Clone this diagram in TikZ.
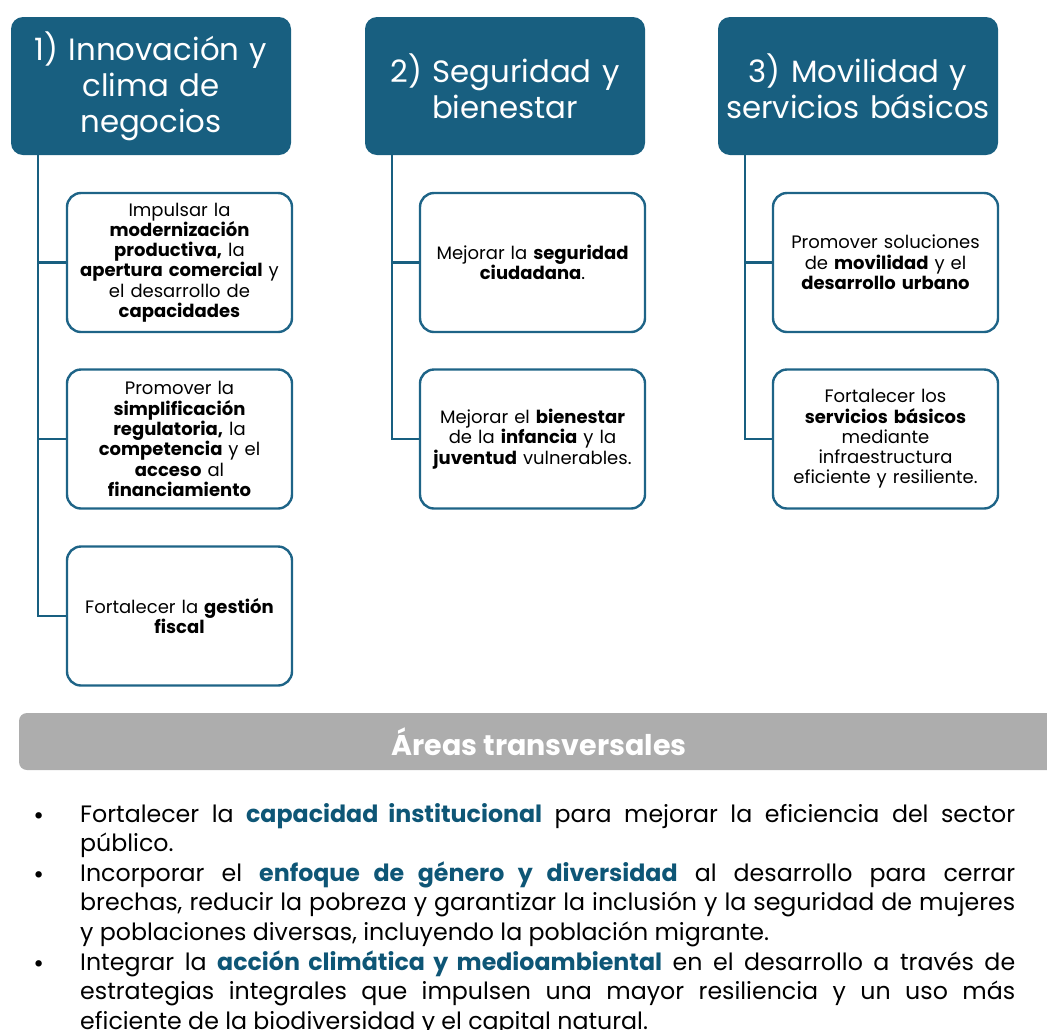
\documentclass[tikz,border=0pt]{standalone}
\usepackage{fontspec}
\setmainfont{Poppins}
\usetikzlibrary{calc}
\definecolor{headteal}{RGB}{24,95,128}
\definecolor{edgeteal}{RGB}{30,100,135}
\definecolor{boldteal}{RGB}{14,86,118}
\definecolor{bargray}{RGB}{173,173,173}
\newcommand{\hl}[1]{\textbf{\color{boldteal}#1}}
\newcommand{\itemdot}{\leavevmode\llap{\raisebox{-2.5pt}{\fontsize{26}{26}\selectfont\textbullet}\hspace{36pt}}}
\tikzset{
  headbox/.style={fill=headteal, text=white, rounded corners=12pt, minimum width=280pt,
    minimum height=138pt, text width=276pt, align=center, inner sep=0pt,
    font=\fontsize{30.8}{36}\selectfont},
  itembox/.style={draw=edgeteal, line width=2.4pt, fill=white, rounded corners=14pt,
    minimum width=225pt, minimum height=139pt, text width=222pt, align=center, inner sep=0pt,
    font=\fontsize{18}{20.3}\selectfont},
  conn/.style={draw=headteal, line width=2.6pt},
  bar/.style={fill=bargray, rounded corners=8pt, minimum width=1040pt, minimum height=57pt,
    inner sep=0pt},
}
\begin{document}
\begin{tikzpicture}[x=1pt,y=-1pt]
\useasboundingbox (0,0) rectangle (1047,1029);

% column headers
\node[headbox] (h1) at (151,86) {1) Innovación y\\clima de\\negocios};
\node[headbox] (h2) at (505,86) {2) Seguridad y\\bienestar};
\node[headbox] (h3) at (858,86) {3) Movilidad y\\servicios básicos};

% column 1 items
\node[itembox] (b11) at (179.5,262.5) {Impulsar la\\\textbf{modernización}\\\textbf{productiva,} la\\\textbf{apertura comercial} y\\el desarrollo de\\\textbf{capacidades}};
\node[itembox] (b12) at (179.5,439) {Promover la\\\textbf{simplificación}\\\textbf{regulatoria,} la\\\textbf{competencia} y el\\\textbf{acceso} al\\\textbf{financiamiento}};
\node[itembox] (b13) at (179.5,616) {Fortalecer la \textbf{gestión}\\\textbf{fiscal}};

% column 2 items
\node[itembox] (b21) at (532.5,262.5) {Mejorar la \textbf{seguridad}\\\textbf{ciudadana}.};
\node[itembox] (b22) at (532.5,439) {Mejorar el \textbf{bienestar}\\de la \textbf{infancia} y la\\\textbf{juventud} vulnerables.};

% column 3 items
\node[itembox] (b31) at (885.5,262.5) {Promover soluciones\\de \textbf{movilidad} y el\\\textbf{desarrollo urbano}};
\node[itembox] (b32) at (885.5,439) {Fortalecer los\\\textbf{servicios básicos}\\mediante\\infraestructura\\eficiente y resiliente.};

% tree connectors
\coordinate (t1) at ($(h1.south west)+(27,0)$);
\coordinate (t2) at ($(h2.south west)+(27,0)$);
\coordinate (t3) at ($(h3.south west)+(27,0)$);
\draw[conn] (t1) |- (b13.west);
\draw[conn] (t1 |- b11.west) -- (b11.west);
\draw[conn] (t1 |- b12.west) -- (b12.west);
\draw[conn] (t2) |- (b22.west);
\draw[conn] (t2 |- b21.west) -- (b21.west);
\draw[conn] (t3) |- (b32.west);
\draw[conn] (t3 |- b31.west) -- (b31.west);

% cross-cutting areas
\node[bar] (areas) at (539,741.5) {\fontsize{28.5}{30}\selectfont\bfseries\color{white}Áreas transversales};

\node[anchor=north west, inner sep=0pt, text width=935pt, align=justify,
  font=\fontsize{23.7}{29.6}\selectfont] (list) at (80,803) {%
\itemdot Fortalecer la \hl{capacidad institucional} para mejorar la eficiencia del sector\linebreak
público.\par
\itemdot Incorporar el \hl{enfoque de género y diversidad} al desarrollo para cerrar\linebreak
brechas, reducir la pobreza y garantizar la inclusión y la seguridad de mujeres\linebreak
y poblaciones diversas, incluyendo la población migrante.\par
\itemdot Integrar la \hl{acción climática y medioambiental} en el desarrollo a través de\linebreak
estrategias integrales que impulsen una mayor resiliencia y un uso más\linebreak
eficiente de la biodiversidad y el capital natural.};
\end{tikzpicture}
\end{document}
